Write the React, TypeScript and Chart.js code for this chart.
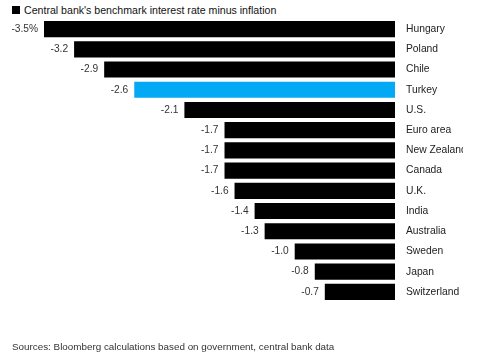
import React, { useEffect, useRef } from "react";
import { Chart, registerables } from "chart.js";

Chart.register(...registerables);

const countries = [
  "Hungary", "Poland", "Chile", "Turkey", "U.S.", "Euro area", "New Zealand",
  "Canada", "U.K.", "India", "Australia", "Sweden", "Japan", "Switzerland",
];
const values = [-3.5, -3.2, -2.9, -2.6, -2.1, -1.7, -1.7, -1.7, -1.6, -1.4, -1.3, -1.0, -0.8, -0.7];
const highlighted = ["Turkey"];
const seriesName = "Central bank's benchmark interest rate minus inflation";
const sourceText = "Sources: Bloomberg calculations based on government, central bank data";
const xMin = -3.5;
const xMax = 0;

const FONT = "'Liberation Sans', Arial, Helvetica, sans-serif";

const valueLabelPlugin = {
  id: "valueLabels",
  afterDatasetsDraw(chart: any) {
    const ctx = chart.ctx;
    const meta = chart.getDatasetMeta(0);
    ctx.save();
    ctx.font = `10.2px ${FONT}`;
    ctx.fillStyle = "#333";
    ctx.textAlign = "right";
    ctx.textBaseline = "middle";
    meta.data.forEach((bar: any, i: number) => {
      const v = values[i];
      const txt = v.toFixed(1) + (i === 0 ? "%" : "");
      const left = Math.min(bar.x, bar.base);
      ctx.fillText(txt, left - 6, bar.y);
    });
    ctx.restore();
  },
};

export default function App() {
  const ref = useRef<HTMLCanvasElement | null>(null);

  useEffect(() => {
    document.body.style.margin = "0";
    const canvas = ref.current;
    if (!canvas) return;
    const chart = new Chart(canvas, {
      type: "bar",
      data: {
        labels: countries,
        datasets: [
          {
            label: seriesName,
            data: values,
            backgroundColor: (c: any) =>
              highlighted.includes(countries[c.dataIndex]) ? "#03a9f4" : "#000000",
            borderWidth: 0,
            barPercentage: 0.8,
            categoryPercentage: 1,
          },
        ],
      },
      options: {
        indexAxis: "y",
        animation: false,
        responsive: false,
        maintainAspectRatio: false,
        layout: { padding: { left: 44, top: 19, bottom: 51, right: 0 } },
        plugins: {
          legend: { display: false },
          tooltip: { enabled: false },
          title: { display: false },
        },
        scales: {
          x: { display: false, min: xMin, max: xMax },
          y: {
            position: "right",
            grid: { display: false, drawTicks: false },
            border: { display: false },
            ticks: {
              padding: 11,
              color: "#222",
              font: { family: FONT, size: 10.3 },
              autoSkip: false,
            },
            afterFit: (s: any) => {
              s.width = 68;
            },
          },
        },
      } as any,
      plugins: [valueLabelPlugin],
    });
    return () => chart.destroy();
  }, []);

  return (
    <div style={{ position: "relative", width: 492, height: 353, background: "#fff", fontFamily: FONT }}>
      <div
        style={{
          position: "absolute",
          left: 12,
          top: 4,
          fontSize: 10.6,
          color: "#111",
          whiteSpace: "nowrap",
          display: "flex",
          alignItems: "center",
        }}
      >
        <span style={{ display: "inline-block", width: 8, height: 8, background: "#000", marginRight: 4 }} />
        <span>{seriesName}</span>
      </div>
      <canvas ref={ref} width={463} height={353} style={{ position: "absolute", left: 0, top: 0, width: 463, height: 353 }} />
      <div
        style={{
          position: "absolute",
          left: 12,
          top: 341,
          fontSize: 9.85,
          color: "#333",
          whiteSpace: "nowrap",
        }}
      >
        {sourceText}
      </div>
    </div>
  );
}
